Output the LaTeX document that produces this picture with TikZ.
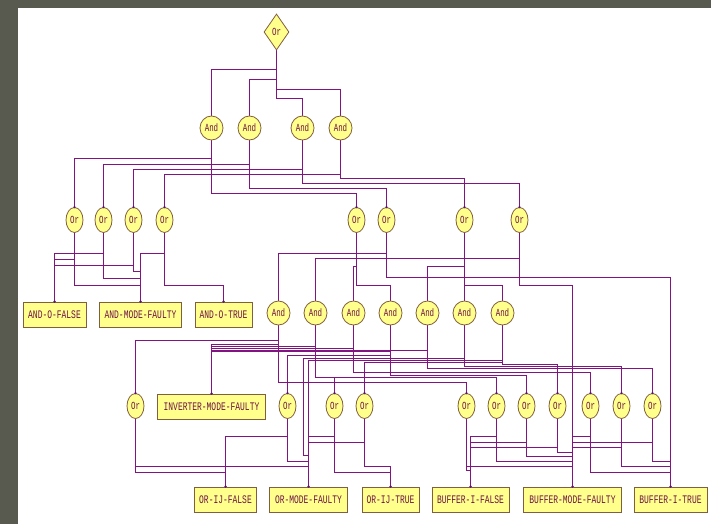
\documentclass[tikz,border=0pt]{standalone}
\usepackage{graphicx}
\usepackage{fontspec}
\setmonofont{Liberation Mono}
\usetikzlibrary{shapes.geometric}
\definecolor{bgc}{RGB}{89,90,79}
\definecolor{wirec}{RGB}{130,20,130}
\definecolor{fillc}{RGB}{255,255,140}
\definecolor{edgec}{RGB}{130,95,60}
\definecolor{txtc}{RGB}{110,20,70}
\definecolor{pinc}{RGB}{90,20,120}
\pgfdeclarelayer{paper}
\pgfdeclarelayer{wires}
\pgfsetlayers{paper,wires,main}
\newcommand\wire[3]{\draw[wire] (#1.south) -- (#1.south |- 0,#3) -- (#2.north |- 0,#3) -- (#2.north);}
\newcommand\lb[1]{\scalebox{1}[1.45]{#1}}
\begin{document}
\begin{tikzpicture}[x=1bp,y=-1bp,
  wire/.style={draw=wirec,line width=1bp},
  gate/.style={draw=edgec,fill=fillc,line width=0.8bp,inner sep=0pt,text=txtc,font=\ttfamily\fontsize{7.5}{7.5}\selectfont},
  orn/.style={gate,ellipse,minimum width=17bp,minimum height=25bp},
  andn/.style={gate,ellipse,minimum width=23bp,minimum height=24bp},
  topor/.style={gate,diamond,minimum width=25bp,minimum height=36bp},
  leaf/.style={draw=edgec,fill=fillc,line width=0.9bp,inner sep=0pt,rectangle,minimum height=25bp,text=txtc,font=\ttfamily\fontsize{8}{8}\selectfont}]
\useasboundingbox (0,0) rectangle (711,524);
\begin{pgfonlayer}{paper}
\fill[bgc] (0,0) rectangle (711,524);
\fill[white] (18,8) rectangle (711,524);
\end{pgfonlayer}
% top
\node[topor] (T) at (276.5,32) {\lb{Or}};
\node[andn] (U1) at (211.5,128) {\lb{And}};
\node[andn] (U2) at (249.5,128) {\lb{And}};
\node[andn] (U3) at (302.5,128) {\lb{And}};
\node[andn] (U4) at (340.5,128) {\lb{And}};
% second row of Or
\node[orn] (M1) at (74.5,220) {\lb{Or}};
\node[orn] (M2) at (103.5,220) {\lb{Or}};
\node[orn] (M3) at (133.5,220) {\lb{Or}};
\node[orn] (M4) at (164.5,220) {\lb{Or}};
\node[orn] (M5) at (356.5,220) {\lb{Or}};
\node[orn] (M6) at (386.5,220) {\lb{Or}};
\node[orn] (M7) at (464.5,220) {\lb{Or}};
\node[orn] (M8) at (519.5,220) {\lb{Or}};
% leaves row 1
\node[leaf,minimum width=63bp] (LF) at (54.5,314.5) {\lb{AND-O-FALSE}};
\node[leaf,minimum width=82bp] (LM) at (140.5,314.5) {\lb{AND-MODE-FAULTY}};
\node[leaf,minimum width=57bp] (LT) at (223.5,314.5) {\lb{AND-O-TRUE}};
% middle Ands
\node[andn] (A1) at (278.5,313) {\lb{And}};
\node[andn] (A2) at (315.5,313) {\lb{And}};
\node[andn] (A3) at (353.5,313) {\lb{And}};
\node[andn] (A4) at (390.5,313) {\lb{And}};
\node[andn] (A5) at (427.5,313) {\lb{And}};
\node[andn] (A6) at (464.5,313) {\lb{And}};
\node[andn] (A7) at (502.5,313) {\lb{And}};
% third row
\node[orn] (B1) at (135.5,406) {\lb{Or}};
\node[leaf,minimum width=108bp] (INV) at (211.5,406.5) {\lb{INVERTER-MODE-FAULTY}};
\node[orn] (B2) at (287.5,406) {\lb{Or}};
\node[orn] (B3) at (334.5,406) {\lb{Or}};
\node[orn] (B4) at (364.5,406) {\lb{Or}};
\node[orn] (B5) at (466.5,406) {\lb{Or}};
\node[orn] (B6) at (496.5,406) {\lb{Or}};
\node[orn] (B7) at (526.5,406) {\lb{Or}};
\node[orn] (B8) at (557.5,406) {\lb{Or}};
\node[orn] (B9) at (590.5,406) {\lb{Or}};
\node[orn] (B10) at (621.5,406) {\lb{Or}};
\node[orn] (B11) at (652.5,406) {\lb{Or}};
% bottom leaves
\node[leaf,minimum width=62bp] (OF) at (225.5,499.5) {\lb{OR-IJ-FALSE}};
\node[leaf,minimum width=78bp] (OMF) at (308.5,499.5) {\lb{OR-MODE-FAULTY}};
\node[leaf,minimum width=57bp] (OT) at (390.5,499.5) {\lb{OR-IJ-TRUE}};
\node[leaf,minimum width=77bp] (BIF) at (470.5,499.5) {\lb{BUFFER-I-FALSE}};
\node[leaf,minimum width=98bp] (BMF) at (572.5,499.5) {\lb{BUFFER-MODE-FAULTY}};
\node[leaf,minimum width=73bp] (BIT) at (670.5,499.5) {\lb{BUFFER-I-TRUE}};
\begin{pgfonlayer}{wires}
% wires: top
\wire{T}{U1}{69.5} \wire{T}{U2}{79.5} \wire{T}{U4}{89.5} \wire{T}{U3}{98.5}
% top Ands -> second Ors
\wire{U1}{M1}{158.5} \wire{U1}{M5}{193.5}
\wire{U2}{M2}{164.5} \wire{U2}{M6}{188.5}
\wire{U3}{M3}{169.5} \wire{U3}{M8}{183.5}
\wire{U4}{M4}{174.5} \wire{U4}{M7}{178.5}
% left Ors -> leaves
\wire{M1}{LM}{285.5} \wire{M1}{LF}{259.5}
\wire{M2}{LM}{278.5} \wire{M2}{LF}{253.5}
\wire{M3}{LM}{271.5} \wire{M3}{LF}{265.5}
\wire{M4}{LM}{253.5} \wire{M4}{LT}{285.5}
% right Ors -> middle Ands
\wire{M6}{A1}{253.5}
\wire{M8}{A2}{258.5}
\wire{M5}{A3}{266.5}
\wire{M5}{A4}{285.5}
\wire{M7}{A5}{266.5}
\wire{M7}{A6}{280.5}
\wire{M7}{A7}{285.5}
\wire{M6}{BIT}{277.5}
\wire{M8}{BMF}{285.5}
% middle Ands -> third row
\wire{A1}{B1}{340.5} \wire{A1}{INV}{344.5} \wire{A1}{B5}{382.5}
\wire{A2}{INV}{346.5} \wire{A2}{B3}{377.5} \wire{A2}{B6}{377.5}
\wire{A3}{INV}{348.5} \wire{A3}{B9}{372.5}
\wire{A4}{B2}{355.5} \wire{A4}{INV}{351.5} \wire{A4}{B7}{375.5}
\wire{A5}{INV}{350.5} \wire{A5}{B11}{368.5}
\wire{A6}{B10}{366.5}
\draw[wire] (A6.south) -- (A6.south |- 0,358.5) -- (303.5,358.5) -- (303.5,455.5) -- (OMF.north |- 0,455.5);
\wire{A7}{OMF}{360.5}
\wire{A7}{B4}{362.5} \wire{A7}{B8}{364.5}
% third row -> bottom leaves
\wire{B1}{OMF}{466.5} \wire{B1}{OF}{472.5}
\wire{B2}{OF}{436.5} \wire{B2}{OMF}{461.5}
\wire{B3}{OMF}{436.5} \wire{B3}{OT}{472.5}
\wire{B4}{OMF}{442.5} \wire{B4}{OT}{466.5}
\wire{B5}{BIF}{470.5} \wire{B5}{BMF}{466.5}
\wire{B6}{BIF}{436.5} \wire{B6}{BMF}{461.5}
\wire{B7}{BIF}{442.5} \wire{B7}{BMF}{456.5}
\wire{B8}{BIF}{447.5} \wire{B8}{BMF}{452.5}
\wire{B9}{BMF}{436.5} \wire{B9}{BIT}{472.5}
\wire{B10}{BMF}{447.5} \wire{B10}{BIT}{466.5}
\wire{B11}{BMF}{442.5} \wire{B11}{BIT}{461.5}
\end{pgfonlayer}
% pins
\foreach \n in {M1,M2,M3,M4,M5,M6,M7,M8,B1,B2,B3,B4,B5,B6,B7,B8,B9,B10,B11,LF,LM,LT,INV,OF,OMF,OT,BIF,BMF,BIT}
  \fill[pinc] (\n.north) circle (1.3bp);
\end{tikzpicture}
\end{document}
